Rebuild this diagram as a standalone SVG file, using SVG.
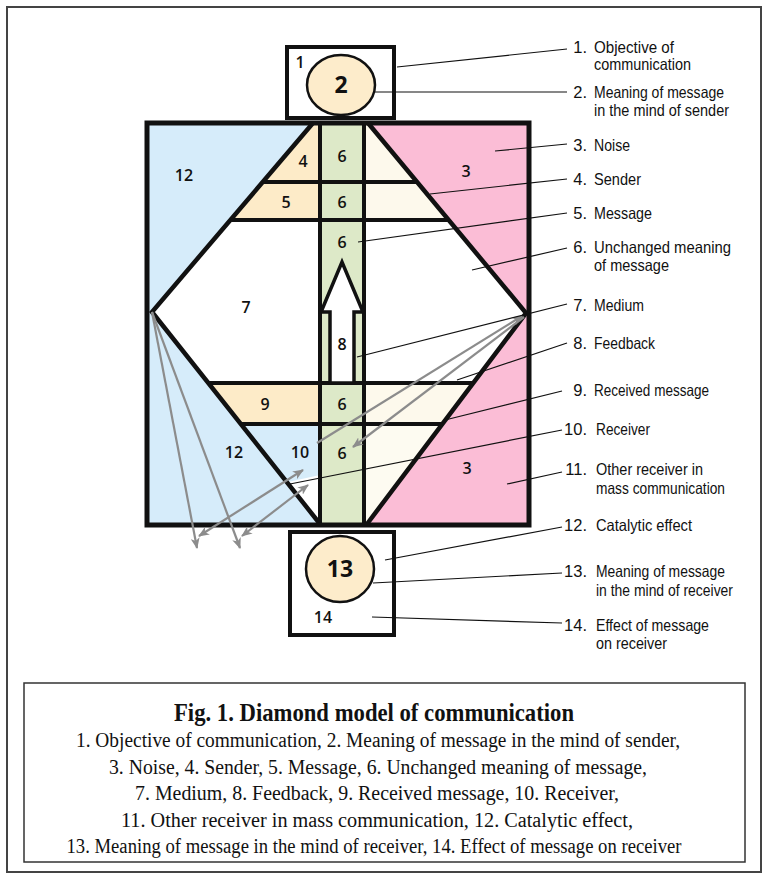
<svg xmlns="http://www.w3.org/2000/svg" width="768" height="884" viewBox="0 0 768 884">
<style>
.k{stroke:#111;fill:none;stroke-linejoin:miter}
.thick{stroke-width:4.5}
.n{font-family:"Open Sans","Liberation Sans",sans-serif;font-weight:600;font-size:16px;fill:#111;text-anchor:middle}
.big{font-size:23px;font-weight:700}
.lab{font-family:"Liberation Sans",Arial,sans-serif;font-size:16.5px;fill:#111}
.num{text-anchor:end}
.lead{stroke:#111;stroke-width:1.2;fill:none}
.g{stroke:#8c8c8c;stroke-width:2.2;fill:none}
.cap{font-family:"Liberation Serif","Times New Roman",serif;font-size:20.5px;fill:#111;text-anchor:middle}
.ttl{font-size:25px;font-weight:700}
</style>
<defs>
<marker id="ah" markerWidth="11" markerHeight="9" refX="10" refY="4.5" orient="auto-start-reverse" markerUnits="userSpaceOnUse">
<path d="M0,0 L11,4.5 L0,9 L3,4.5 Z" fill="#8c8c8c"/>
</marker>
</defs>
<rect x="0" y="0" width="768" height="884" fill="#fff"/>
<rect x="7" y="7" width="754" height="865" fill="none" stroke="#444" stroke-width="2"/>

<g id="diamond">
<polygon points="147,123 313,123 152,312 320,524 147,524" fill="#d6ecfa"/>
<polygon points="368,123 529,123 529,524 367,524 526,313" fill="#fbbdd6"/>
<polygon points="313,123 320,123 320,220 230.4,220" fill="#fdebc8"/>
<polygon points="364,123 368,123 448.7,220 364,220" fill="#fdf9ec"/>
<polygon points="208.3,383 320,383 320,424 240.8,424" fill="#fdebc8"/>
<polygon points="364,383 473.2,383 442.4,424 364,424" fill="#fdf9ec"/>
<polygon points="240.8,424 320,424 320,475 288,482" fill="#d6ecfa"/>
<polygon points="364,424 442.4,424 367,524 364,524" fill="#fdfbf1"/>
<rect x="320" y="123" width="44" height="401" fill="#dde9c8"/>
<polyline class="k thick" points="313,123 152,312 320,524"/>
<polyline class="k thick" points="368,123 526,313 367,524"/>
<line class="k" stroke-width="4" x1="262.7" y1="182" x2="417" y2="182"/>
<line class="k" stroke-width="4" x1="230.4" y1="220" x2="448.7" y2="220"/>
<line class="k" stroke-width="4" x1="208.3" y1="383" x2="473.2" y2="383"/>
<line class="k" stroke-width="4" x1="240.8" y1="424" x2="442.4" y2="424"/>
<line class="k" stroke-width="4" x1="320" y1="123" x2="320" y2="524"/>
<line class="k" stroke-width="4" x1="364" y1="123" x2="364" y2="524"/>
<rect class="k" stroke-width="5" x="147" y="123" width="382" height="402"/>
<polygon points="330,383 330,312 321,312 342,262 363,312 354,312 354,383" fill="#fff" stroke="#111" stroke-width="3.5"/>
<text class="n" x="184" y="181">12</text>
<text class="n" x="303" y="167">4</text>
<text class="n" x="286" y="208">5</text>
<text class="n" x="342" y="162">6</text>
<text class="n" x="342" y="208">6</text>
<text class="n" x="342" y="248">6</text>
<text class="n" x="466" y="177">3</text>
<text class="n" x="246" y="313">7</text>
<text class="n" x="342" y="350">8</text>
<text class="n" x="265" y="410">9</text>
<text class="n" x="342" y="410">6</text>
<text class="n" x="234" y="458">12</text>
<text class="n" x="300" y="458">10</text>
<text class="n" x="342" y="459">6</text>
<text class="n" x="467" y="474">3</text>
</g>

<g id="top-node">
<rect class="k" stroke-width="4" x="287" y="47" width="107" height="71" fill="#fff"/>
<ellipse cx="341" cy="85" rx="34" ry="30" fill="#fdeccb" stroke="#111" stroke-width="2.5"/>
<text class="n" x="300" y="68">1</text>
<text class="n big" x="341" y="93">2</text>
</g>

<g id="bottom-node">
<rect class="k" stroke-width="4" x="290" y="532" width="104" height="103" fill="#fff"/>
<ellipse cx="340" cy="569" rx="34" ry="33" fill="#fdeccb" stroke="#111" stroke-width="2.5"/>
<text class="n big" x="340" y="577">13</text>
<text class="n" x="323" y="623">14</text>
</g>

<g id="connectors">
<line class="g" x1="152" y1="312" x2="197" y2="548" marker-end="url(#ah)"/>
<line class="g" x1="152" y1="312" x2="240" y2="548" marker-end="url(#ah)"/>
<line class="g" x1="317" y1="443" x2="522" y2="316" marker-end="url(#ah)"/>
<line class="g" x1="524" y1="317" x2="353" y2="447" marker-end="url(#ah)"/>
<line class="g" x1="303" y1="470" x2="199" y2="536" marker-start="url(#ah)" marker-end="url(#ah)"/>
<line class="g" x1="308" y1="485" x2="242" y2="536" marker-start="url(#ah)" marker-end="url(#ah)"/>
<line class="lead" x1="567" y1="49" x2="397" y2="67"/>
<line class="lead" x1="567" y1="92" x2="375" y2="92"/>
<line class="lead" x1="567" y1="144" x2="495" y2="151"/>
<line class="lead" x1="567" y1="179" x2="430" y2="194"/>
<line class="lead" x1="567" y1="213" x2="358" y2="242"/>
<line class="lead" x1="567" y1="248" x2="472" y2="270"/>
<line class="lead" x1="567" y1="304" x2="357" y2="357"/>
<line class="lead" x1="567" y1="343" x2="457" y2="380"/>
<line class="lead" x1="562" y1="391" x2="445" y2="420"/>
<line class="lead" x1="562" y1="430" x2="290" y2="484"/>
<line class="lead" x1="562" y1="472" x2="507" y2="484"/>
<line class="lead" x1="562" y1="527" x2="385" y2="560"/>
<line class="lead" x1="562" y1="573" x2="373" y2="583"/>
<line class="lead" x1="562" y1="623" x2="372" y2="617"/>
</g>

<g id="labels">
<text class="lab num" x="587" y="53">1.</text><text class="lab" x="594" y="53" textLength="80" lengthAdjust="spacingAndGlyphs">Objective of</text>
<text class="lab" x="594" y="70" textLength="97" lengthAdjust="spacingAndGlyphs">communication</text>
<text class="lab num" x="587" y="98">2.</text><text class="lab" x="594" y="98" textLength="130" lengthAdjust="spacingAndGlyphs">Meaning of message</text>
<text class="lab" x="594" y="116" textLength="135" lengthAdjust="spacingAndGlyphs">in the mind of sender</text>
<text class="lab num" x="587" y="151">3.</text><text class="lab" x="594" y="151" textLength="36" lengthAdjust="spacingAndGlyphs">Noise</text>
<text class="lab num" x="587" y="185">4.</text><text class="lab" x="594" y="185" textLength="47" lengthAdjust="spacingAndGlyphs">Sender</text>
<text class="lab num" x="587" y="219">5.</text><text class="lab" x="594" y="219" textLength="58" lengthAdjust="spacingAndGlyphs">Message</text>
<text class="lab num" x="587" y="253">6.</text><text class="lab" x="594" y="253" textLength="137" lengthAdjust="spacingAndGlyphs">Unchanged meaning</text>
<text class="lab" x="594" y="271" textLength="75" lengthAdjust="spacingAndGlyphs">of message</text>
<text class="lab num" x="587" y="311">7.</text><text class="lab" x="594" y="311" textLength="50" lengthAdjust="spacingAndGlyphs">Medium</text>
<text class="lab num" x="587" y="349">8.</text><text class="lab" x="594" y="349" textLength="61" lengthAdjust="spacingAndGlyphs">Feedback</text>
<text class="lab num" x="587" y="396">9.</text><text class="lab" x="594" y="396" textLength="115" lengthAdjust="spacingAndGlyphs">Received message</text>
<text class="lab num" x="587" y="435">10.</text><text class="lab" x="596" y="435" textLength="54" lengthAdjust="spacingAndGlyphs">Receiver</text>
<text class="lab num" x="587" y="475">11.</text><text class="lab" x="596" y="475" textLength="107" lengthAdjust="spacingAndGlyphs">Other receiver in</text>
<text class="lab" x="596" y="494" textLength="129" lengthAdjust="spacingAndGlyphs">mass communication</text>
<text class="lab num" x="587" y="531">12.</text><text class="lab" x="596" y="531" textLength="96" lengthAdjust="spacingAndGlyphs">Catalytic effect</text>
<text class="lab num" x="587" y="577">13.</text><text class="lab" x="596" y="577" textLength="129" lengthAdjust="spacingAndGlyphs">Meaning of message</text>
<text class="lab" x="596" y="596" textLength="137" lengthAdjust="spacingAndGlyphs">in the mind of receiver</text>
<text class="lab num" x="587" y="631">14.</text><text class="lab" x="596" y="631" textLength="113" lengthAdjust="spacingAndGlyphs">Effect of message</text>
<text class="lab" x="596" y="649" textLength="71" lengthAdjust="spacingAndGlyphs">on receiver</text>
</g>

<g id="caption">
<rect x="24" y="683" width="721" height="179" fill="none" stroke="#333" stroke-width="1.5"/>
<text class="cap ttl" x="374" y="721" textLength="400" lengthAdjust="spacingAndGlyphs">Fig. 1. Diamond model of communication</text>
<text class="cap" x="378" y="747" textLength="604" lengthAdjust="spacingAndGlyphs">1. Objective of communication, 2. Meaning of message in the mind of sender,</text>
<text class="cap" x="378" y="774" textLength="538" lengthAdjust="spacingAndGlyphs">3. Noise, 4. Sender, 5. Message, 6. Unchanged meaning of message,</text>
<text class="cap" x="377" y="800" textLength="484" lengthAdjust="spacingAndGlyphs">7. Medium, 8. Feedback, 9. Received message, 10. Receiver,</text>
<text class="cap" x="377" y="827" textLength="512" lengthAdjust="spacingAndGlyphs">11. Other receiver in mass communication, 12. Catalytic effect,</text>
<text class="cap" x="374" y="853" textLength="615" lengthAdjust="spacingAndGlyphs">13. Meaning of message in the mind of receiver, 14. Effect of message on receiver</text>
</g>
</svg>
